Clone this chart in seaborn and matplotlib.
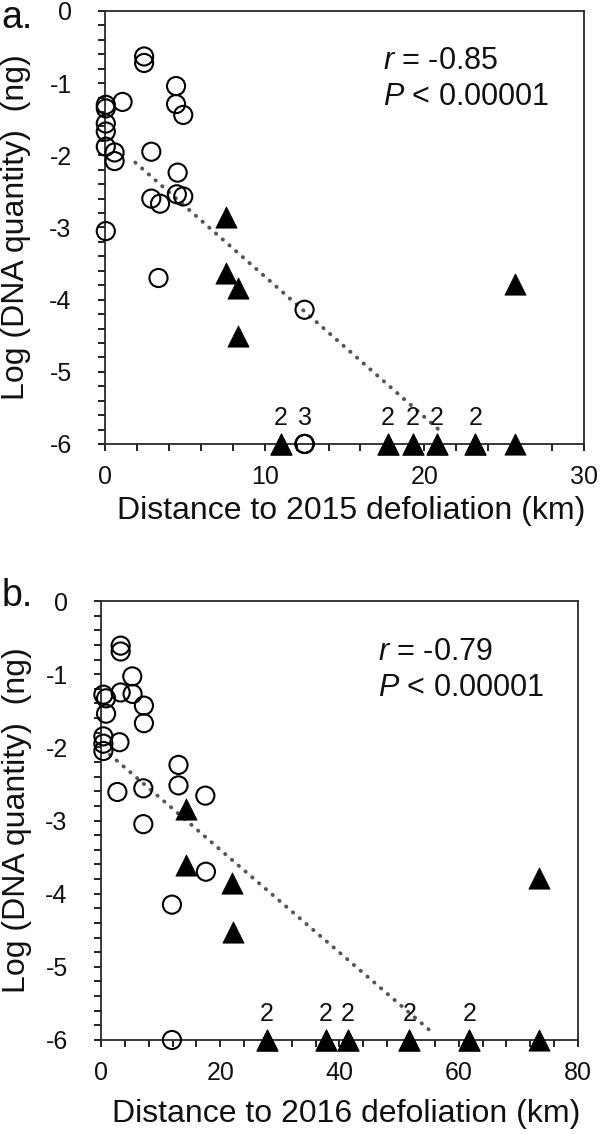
import numpy as np
import pandas as pd
import matplotlib
matplotlib.use("Agg")
import matplotlib.pyplot as plt
from matplotlib.ticker import MultipleLocator
import seaborn as sns

# panel a: distance to 2015 defoliation (km) vs log DNA quantity (ng)
# open circles
a_open_x = [0.05, 0.05, 0.05, 0.05, 0.05, 0.05, 0.6, 0.6, 1.1, 2.45, 2.45, 2.9,
            2.9, 3.45, 3.35, 4.45, 4.45, 4.9, 4.55, 4.5, 4.9, 12.5,
            12.5, 12.5, 12.5]
a_open_y = [-1.30, -1.35, -1.56, -1.67, -1.88, -3.05, -1.96, -2.08, -1.26, -0.63, -0.72, -1.95,
            -2.60, -2.67, -3.70, -1.04, -1.29, -1.44, -2.24, -2.54, -2.57, -4.14,
            -6, -6, -6]
# filled triangles
a_fill_x = [7.55, 7.55, 8.3, 8.3, 25.7,
            11.0, 11.0, 17.7, 17.7, 19.3, 19.3, 20.8, 20.8, 23.2, 23.2, 25.7]
a_fill_y = [-2.85, -3.63, -3.84, -4.51, -3.79,
            -6, -6, -6, -6, -6, -6, -6, -6, -6, -6, -6]
a_trend_x = [1.9, 20.9]
a_trend_y = [-2.10, -5.80]
a_stats = ["$r$ = -0.85", "$P$ < 0.00001"]

# panel b: distance to 2016 defoliation (km)
b_open_x = [3.3, 3.3, 5.25, 3.3, 5.3, 0.4, 0.85, 7.2, 0.85, 7.2, 0.4, 0.4,
            0.4, 3.1, 2.75, 7.1, 13.0, 13.0, 17.5, 7.1, 17.6, 11.9,
            11.9]
b_open_y = [-0.61, -0.69, -1.03, -1.25, -1.27, -1.28, -1.33, -1.43, -1.54, -1.67, -1.85, -1.95,
            -2.05, -1.93, -2.61, -2.56, -2.24, -2.52, -2.66, -3.05, -3.70, -4.15,
            -6]
b_fill_x = [14.2, 14.3, 22.0, 22.2, 73.4,
            27.8, 27.8, 37.7, 37.7, 41.4, 41.4, 51.7, 51.7, 61.8, 61.8, 73.5]
b_fill_y = [-2.84, -3.61, -3.86, -4.52, -3.78,
            -6, -6, -6, -6, -6, -6, -6, -6, -6, -6, -6]
b_trend_x = [1.5, 55.6]
b_trend_y = [-2.10, -5.90]
b_stats = ["$r$ = -0.79", "$P$ < 0.00001"]

sns.set_style("ticks")
plt.rcParams["font.family"] = ["Liberation Sans", "DejaVu Sans"]
plt.rcParams["mathtext.fontset"] = "custom"
plt.rcParams["mathtext.rm"] = "Liberation Sans"
plt.rcParams["mathtext.it"] = "Liberation Sans:italic"
plt.rcParams["axes.unicode_minus"] = False

INK = "#111111"


def panel(ax, open_x, open_y, fill_x, fill_y, trend_x, trend_y, xmax, xmajor, xminor, xlabel, stats):
    df_open = pd.DataFrame({"dist": open_x, "logdna": open_y})
    df_fill = pd.DataFrame({"dist": fill_x, "logdna": fill_y})

    ax.plot(trend_x, trend_y, color="#555555", lw=2.8, linestyle=(0, (0.1, 2.2)),
            dash_capstyle="round", zorder=2)

    ax.scatter(df_open["dist"], df_open["logdna"], s=170, marker="o", facecolors="none",
               edgecolors="black", linewidths=1.5, clip_on=False, zorder=4)
    sns.scatterplot(data=df_fill, x="dist", y="logdna", marker="^", s=235, color="black",
                    edgecolor="black", linewidth=0.5, ax=ax, clip_on=False, zorder=5)

    # number of overlapping samples at the detection floor
    floor = pd.concat([df_open, df_fill])
    counts = floor[floor["logdna"] == -6].groupby("dist").size()
    for x, n in counts.items():
        if n > 1:
            ax.annotate(str(n), (x, -6), xytext=(0, 19), textcoords="offset points",
                        ha="center", va="center", fontsize=18, color=INK)

    ax.text(0.58, 0.885, stats[0], transform=ax.transAxes, fontsize=22, va="center", color=INK)
    ax.text(0.58, 0.802, stats[1], transform=ax.transAxes, fontsize=22, va="center", color=INK)

    ax.set_xlim(0, xmax)
    ax.set_ylim(-6, 0)
    ax.xaxis.set_major_locator(MultipleLocator(xmajor))
    ax.xaxis.set_minor_locator(MultipleLocator(xminor))
    ax.yaxis.set_major_locator(MultipleLocator(1))
    ax.yaxis.set_minor_locator(MultipleLocator(0.2))
    ax.tick_params(which="both", direction="out", length=5, width=1.3, color=INK)
    ax.tick_params(axis="x", which="major", labelsize=18, pad=10, labelcolor=INK)
    ax.tick_params(axis="y", which="major", labelsize=18, pad=19, labelcolor=INK)
    for sp in ax.spines.values():
        sp.set_visible(True)
        sp.set_color("#2a2a2a")
        sp.set_linewidth(1.3)

    ax.set_xlabel(xlabel, fontsize=23, color=INK)
    ax.set_ylabel("Log (DNA quantity)  (ng)", fontsize=23, color=INK)


fig = plt.figure(figsize=(6, 11.34), dpi=100)
ax_a = fig.add_axes([0.175, 0.6085, 0.7983, 0.3818])
ax_b = fig.add_axes([0.1683, 0.0829, 0.795, 0.3871])

panel(ax_a, a_open_x, a_open_y, a_fill_x, a_fill_y, a_trend_x, a_trend_y,
      30, 10, 2, "Distance to 2015 defoliation (km)", a_stats)
panel(ax_b, b_open_x, b_open_y, b_fill_x, b_fill_y, b_trend_x, b_trend_y,
      80, 20, 4, "Distance to 2016 defoliation (km)", b_stats)

ax_a.yaxis.set_label_coords(-0.155, 0.5)
ax_b.yaxis.set_label_coords(-0.145, 0.5)
ax_a.xaxis.set_label_coords(0.515, -0.12)
ax_b.xaxis.set_label_coords(0.515, -0.135)

fig.text(0.003, 1.0, "a.", fontsize=27, va="top", ha="left", color=INK)
fig.text(0.003, 1 - 578 / 1134, "b.", fontsize=27, va="top", ha="left", color=INK)

fig.savefig("out.png", dpi=100)
